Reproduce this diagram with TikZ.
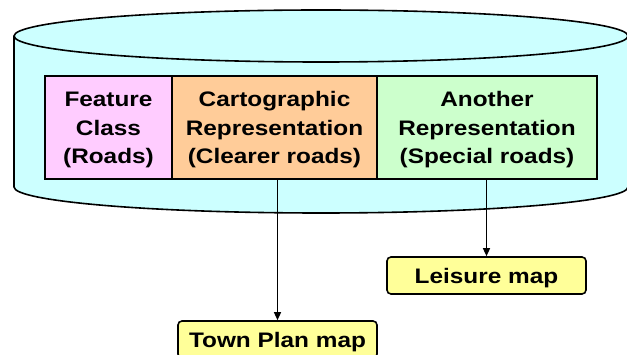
\documentclass[tikz,border=0pt]{standalone}
\usepackage{fontspec}
\setmainfont[FakeStretch=1.16]{Liberation Sans}
\usetikzlibrary{arrows.meta}
\definecolor{cylfill}{HTML}{CCFFFF}
\definecolor{featfill}{HTML}{FFCCFF}
\definecolor{cartofill}{HTML}{FFCC99}
\definecolor{otherfill}{HTML}{CCFFCC}
\definecolor{mapfill}{HTML}{FFFF99}
% strut on the first line pushes the three-line text a little lower in its cell
\newcommand{\cellstrut}{\rule{0pt}{20pt}}
\begin{document}
\begin{tikzpicture}[x=1pt,y=-1pt,
  cylinder line/.style={draw=black,line width=1.6pt},
  cell/.style={draw=black,line width=1.6pt,align=center,inner sep=0pt,
    font=\fontsize{21}{28.5}\selectfont\bfseries,minimum height=103pt},
  mapbox/.style={draw=black,line width=1.6pt,rounded corners=4pt,fill=mapfill,
    inner sep=0pt,minimum width=199pt,minimum height=37pt,
    text height=21pt,text depth=4pt,
    font=\fontsize{21}{25}\selectfont\bfseries},
  conn/.style={draw=black,line width=1.3pt,-{Triangle[length=8pt,width=7pt]}}]
\useasboundingbox (0,0) rectangle (627,355);
\clip (0,0) rectangle (627,355);
% cylinder body
\path[fill=cylfill,cylinder line] (14,36) -- (14,187)
  arc[start angle=180,end angle=0,x radius=307,y radius=26] -- (628,36);
\path[fill=cylfill,cylinder line] (321,36) ellipse[x radius=307,y radius=26];
% the three representation cells
\node[cell,fill=featfill,minimum width=127pt] (feat) at (108.5,127.5)
  {\cellstrut Feature\\Class\\(Roads)};
\node[cell,fill=cartofill,minimum width=205pt] (carto) at (274.5,127.5)
  {\cellstrut Cartographic\\Representation\\(Clearer roads)};
\node[cell,fill=otherfill,minimum width=220pt] (other) at (487,127.5)
  {\cellstrut Another\\Representation\\(Special roads)};
% derived maps
\node[mapbox] (town) at (277.5,339.5) {Town Plan map};
\node[mapbox] (leisure) at (486.5,275.5) {Leisure map};
\draw[conn] (town.north |- carto.south) -- (town.north);
\draw[conn] (leisure.north |- other.south) -- (leisure.north);
\end{tikzpicture}
\end{document}
